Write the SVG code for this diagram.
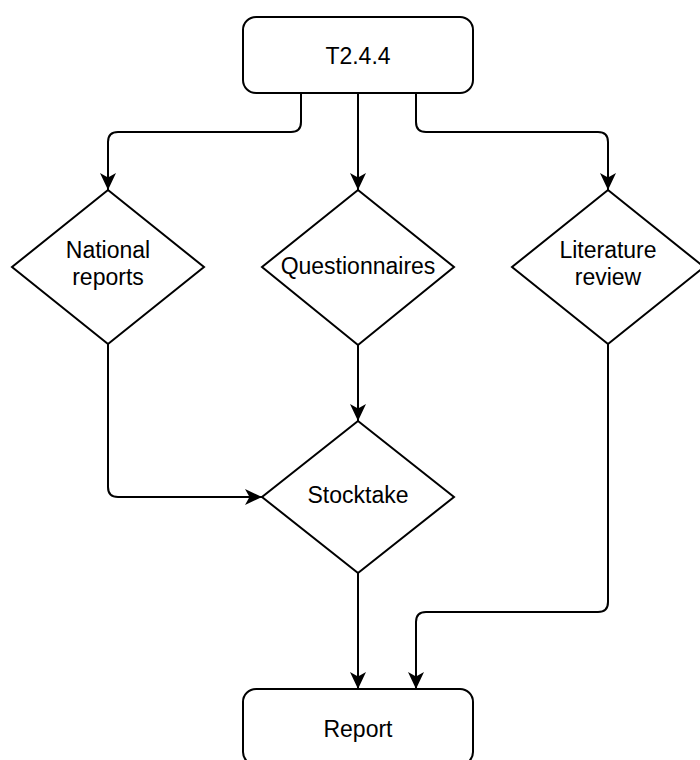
<svg xmlns="http://www.w3.org/2000/svg" width="700" height="760" viewBox="0 0 700 760">
  <style>
    .node { fill: #ffffff; stroke: #000000; stroke-width: 2; }
    .label { font-family: "Liberation Sans", Arial, Helvetica, sans-serif; font-size: 23px; fill: #000000; text-anchor: middle; }
    .edge { fill: none; stroke: #000000; stroke-width: 2; marker-end: url(#arrow); }
  </style>
  <defs>
    <marker id="arrow" markerUnits="userSpaceOnUse" markerWidth="20" markerHeight="20" refX="17" refY="8" orient="auto">
      <path d="M0,0 L17,8 L0,16 L4.5,8 Z" fill="#000000" stroke="none"/>
    </marker>
  </defs>
  <rect width="700" height="760" fill="#ffffff"/>

  <g id="connectors">
    <path class="edge" d="M301,93 V122 Q301,132 291,132 H118 Q108,132 108,142 V190"/>
    <path class="edge" d="M358,93 V190"/>
    <path class="edge" d="M416,93 V122 Q416,132 426,132 H598 Q608,132 608,142 V190"/>
    <path class="edge" d="M108,344 V487 Q108,497 118,497 H262"/>
    <path class="edge" d="M358,345 V421"/>
    <path class="edge" d="M358,573 V689"/>
    <path class="edge" d="M608,344 V602 Q608,612 598,612 H426 Q416,612 416,622 V689"/>
  </g>

  <g id="t244">
    <rect class="node" x="243" y="17" width="230" height="76" rx="13" ry="13"/>
    <text class="label" x="358" y="64">T2.4.4</text>
  </g>

  <g id="national-reports">
    <polygon class="node" points="108,190 204,267 108,344 12,267"/>
    <text class="label" x="108" y="258">National</text>
    <text class="label" x="108" y="285">reports</text>
  </g>

  <g id="questionnaires">
    <polygon class="node" points="358,190 454,267 358,345 262,267"/>
    <text class="label" x="358" y="274">Questionnaires</text>
  </g>

  <g id="literature-review">
    <polygon class="node" points="608,190 704,267 608,344 512,267"/>
    <text class="label" x="608" y="258">Literature</text>
    <text class="label" x="608" y="285">review</text>
  </g>

  <g id="stocktake">
    <polygon class="node" points="358,421 454,497 358,573 262,497"/>
    <text class="label" x="358" y="503">Stocktake</text>
  </g>

  <g id="report">
    <rect class="node" x="243" y="689" width="230" height="76" rx="13" ry="13"/>
    <text class="label" x="358" y="737">Report</text>
  </g>
</svg>
